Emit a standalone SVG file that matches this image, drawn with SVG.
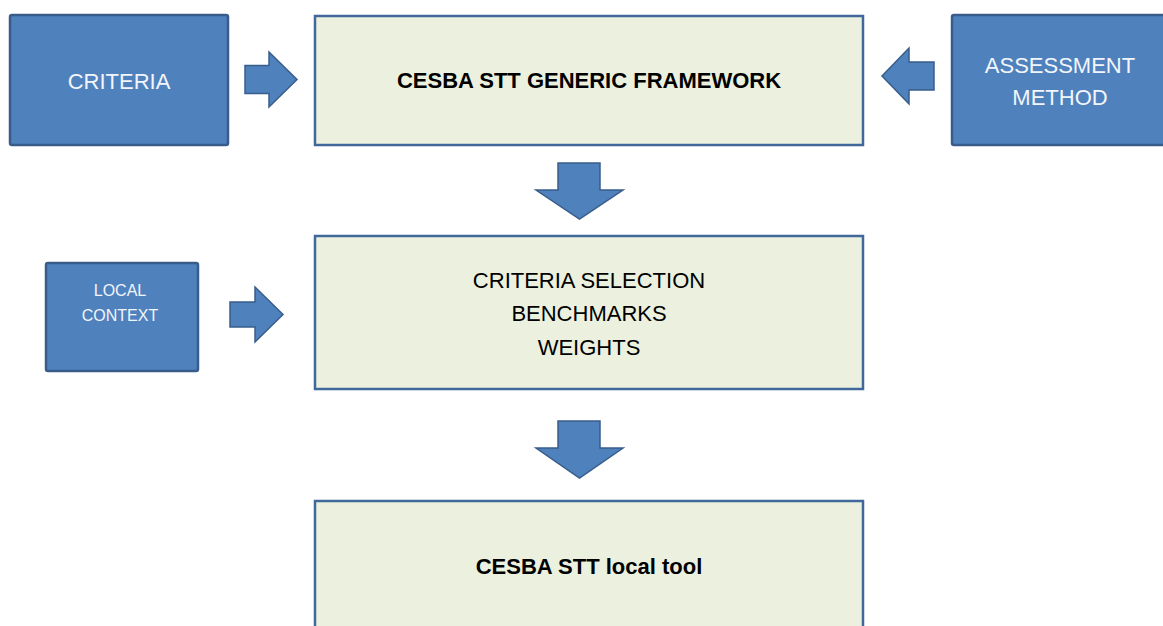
<svg xmlns="http://www.w3.org/2000/svg" width="1163" height="626" viewBox="0 0 1163 626">
<style>
.blue{fill:#4F81BD;stroke:#385D8A;stroke-width:2.5}
.light{fill:#EBF1DE;stroke:#41689A;stroke-width:2.5}
.arrow{fill:#4F81BD;stroke:#385D8A;stroke-width:1.5;stroke-linejoin:miter}
.wt{fill:#F2F5FA;font-family:"Liberation Sans",Arial,sans-serif;text-anchor:middle}
.bt{fill:#000;font-family:"Liberation Sans",Arial,sans-serif;text-anchor:middle;font-size:22px}
</style>
<rect width="1163" height="626" fill="#FFFFFF"/>
<g id="criteria">
<rect class="blue" x="10" y="15" width="218" height="130" rx="2"/>
<text class="wt" x="119" y="89" font-size="22">CRITERIA</text>
</g>
<g id="framework">
<rect class="light" x="315" y="16" width="548" height="129"/>
<text class="bt" x="589" y="88" font-weight="bold">CESBA STT GENERIC FRAMEWORK</text>
</g>
<g id="assessment">
<rect class="blue" x="952" y="15" width="230" height="130" rx="2"/>
<text class="wt" x="1060" y="73" font-size="22">ASSESSMENT</text>
<text class="wt" x="1060" y="105" font-size="22">METHOD</text>
</g>
<g id="selection">
<rect class="light" x="315" y="236" width="548" height="153"/>
<text class="bt" x="589" y="288">CRITERIA SELECTION</text>
<text class="bt" x="589" y="321">BENCHMARKS</text>
<text class="bt" x="589" y="355">WEIGHTS</text>
</g>
<g id="local-context">
<rect class="blue" x="46" y="263" width="152" height="108" rx="2"/>
<text class="wt" x="120" y="296" font-size="16">LOCAL</text>
<text class="wt" x="120" y="321" font-size="16">CONTEXT</text>
</g>
<g id="local-tool">
<rect class="light" x="315" y="501" width="548" height="140"/>
<text class="bt" x="589" y="574" font-weight="bold">CESBA STT local tool</text>
</g>
<g id="connectors">
<polygon class="arrow" points="245,65.5 269,65.5 269,52 297,79.5 269,107 269,93.5 245,93.5"/>
<polygon class="arrow" points="934,62 909,62 909,48 882,76 909,104 909,90 934,90"/>
<polygon class="arrow" points="230,302 255,302 255,287 283,314.5 255,342 255,327 230,327"/>
<polygon class="arrow" points="558,163 600,163 600,190 623,190 579.5,219 536,190 558,190"/>
<polygon class="arrow" points="558,421 600,421 600,448 623,448 579.5,478 536,448 558,448"/>
</g>
</svg>
